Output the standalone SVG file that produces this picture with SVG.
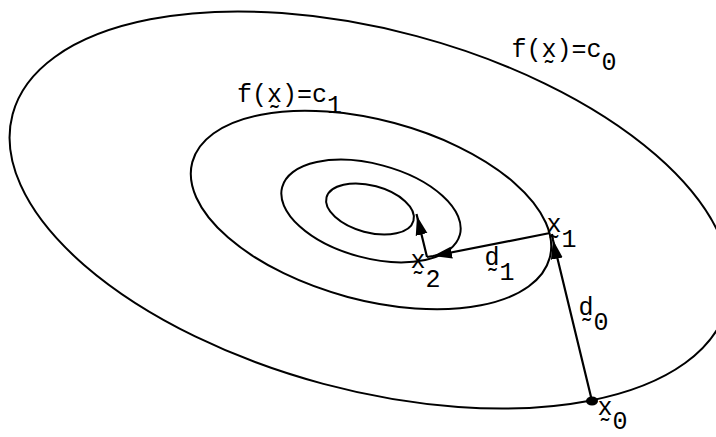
<svg xmlns="http://www.w3.org/2000/svg" width="716" height="437" viewBox="0 0 716 437">
<defs>
<style>
.contour{fill:none;stroke:#000;stroke-width:2}
.conn{fill:none;stroke:#000;stroke-width:2.2}
.lbl{font-family:"Liberation Mono","DejaVu Sans Mono",monospace;font-size:25px;fill:#000}
</style>
<marker id="ah" markerUnits="userSpaceOnUse" markerWidth="20" markerHeight="14" viewBox="0 0 20 14" refX="19" refY="7" orient="auto">
<path d="M0,1 L19,7 L0,13 z" fill="#000"/>
</marker>
</defs>
<rect width="716" height="437" fill="#fff"/>
<g id="contour-c0">
<ellipse class="contour" cx="370" cy="210" rx="370" ry="180" transform="rotate(15 370 210)"/>
<text class="lbl" x="511.5" y="57">f(x̰)=c<tspan dy="13">0</tspan></text>
</g>
<g id="contour-c1">
<ellipse class="contour" cx="371" cy="210" rx="185" ry="90" transform="rotate(15 371 210)"/>
<text class="lbl" x="237" y="102">f(x̰)=c<tspan dy="11">1</tspan></text>
</g>
<g id="contour-c2">
<ellipse class="contour" cx="371" cy="211" rx="92" ry="47" transform="rotate(15 371 211)"/>
</g>
<g id="contour-c3">
<ellipse class="contour" cx="370" cy="209" rx="45" ry="23.5" transform="rotate(15 370 209)"/>
</g>
<g id="connectors">
<path id="d0" class="conn" d="M592,401 L553,240 L552,234" marker-mid="url(#ah)"/>
<path id="d1" class="conn" d="M550,233 L433,256 L427,257" marker-mid="url(#ah)"/>
<path id="d2" class="conn" d="M427,257 L417,216 L416.5,214" marker-mid="url(#ah)"/>
<text class="lbl" x="578.5" y="315">d̰<tspan dy="15">0</tspan></text>
<text class="lbl" x="484.5" y="265">d̰<tspan dy="15">1</tspan></text>
</g>
<g id="point-x0">
<ellipse cx="592" cy="401" rx="6" ry="4.5" fill="#000"/>
<text class="lbl" x="597.5" y="415">x̰<tspan dy="14">0</tspan></text>
</g>
<g id="point-x1">
<text class="lbl" x="546.5" y="232">x̰<tspan dy="15">1</tspan></text>
</g>
<g id="point-x2">
<text class="lbl" x="410.5" y="268">x̰<tspan dy="19">2</tspan></text>
</g>
</svg>
